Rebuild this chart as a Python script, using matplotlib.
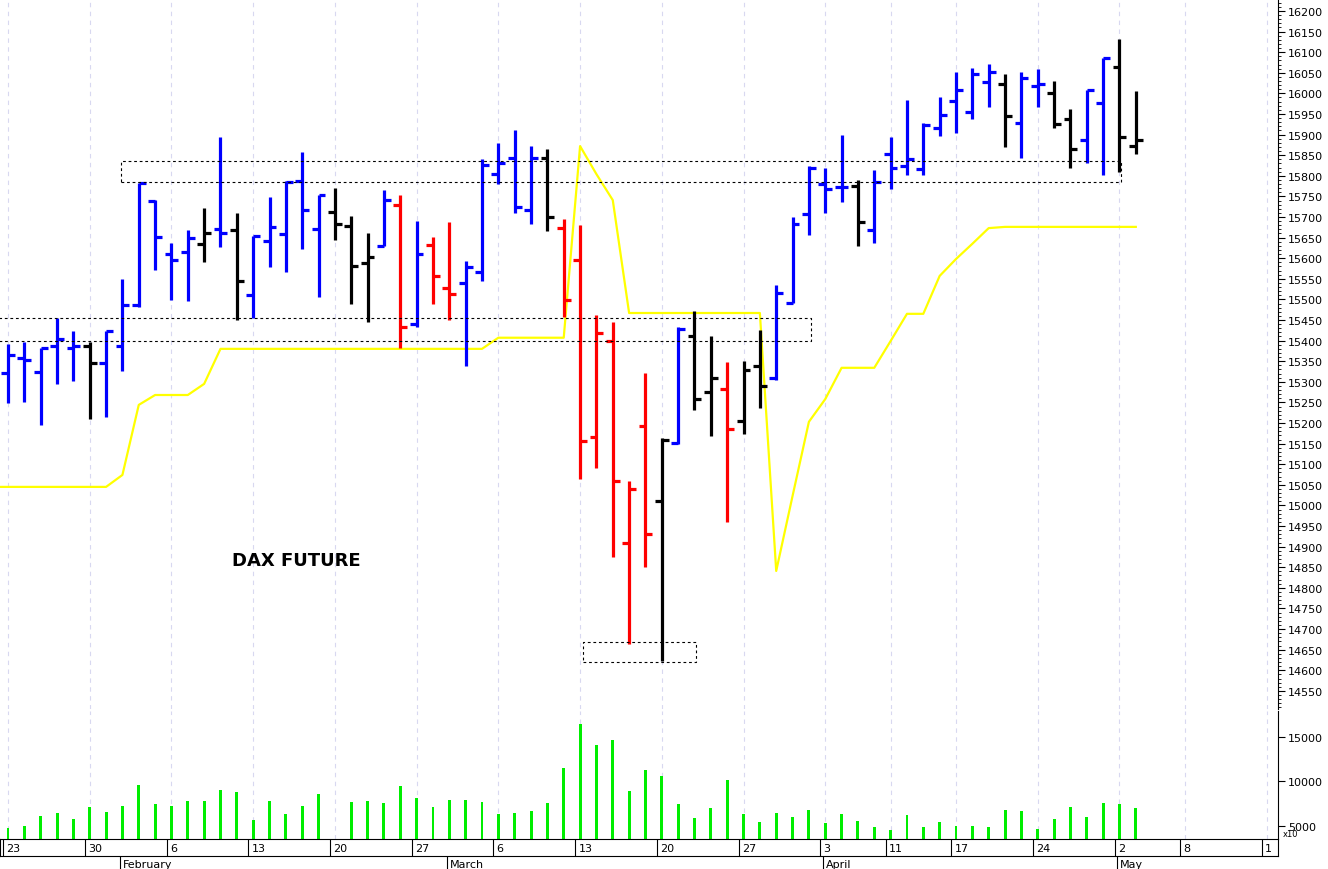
import numpy as np
import matplotlib
matplotlib.use("Agg")
import matplotlib.pyplot as plt

# OHLC per trading-day slot (slot 0 = Jan 23)
opens = [15321, 15359, 15323, 15388, 15382, 15386, 15345, 15386, 15486, 15738,
         15609, 15614, 15634, 15671, 15668, 15511, 15642, 15658, 15787, 15672,
         15713, 15677, 15588, 15629, 15729, 15440, 15633, 15528, 15541, 15567,
         15804, 15844, 15717, 15844, 15673, 15595, 15167, 15398, 14909, 15193,
         15011, 15151, 15411, 15276, 15283, 15205, 15339, 15310, 15492, 15707,
         15780, 15773, 15776, 15668, 15852, 15823, 15816, 15915, 15982, 15954,
         16028, 16023, 15927, 16017, 16001, 15938, 15887, 15976, 16063, 15873]
highs = [15392, 15397, 15381, 15456, 15423, 15396, 15424, 15549, 15782, 15741,
         15637, 15669, 15723, 15894, 15710, 15653, 15749, 15787, 15858, 15753,
         15770, 15702, 15660, 15766, 15754, 15691, 15651, 15687, 15594, 15840,
         15880, 15911, 15872, 15864, 15694, 15681, 15462, 15445, 15060, 15322,
         15163, 15434, 15472, 15411, 15347, 15351, 15425, 15534, 15700, 15823,
         15820, 15899, 15790, 15815, 15893, 15985, 15927, 15992, 16052, 16061,
         16071, 16048, 16052, 16059, 16029, 15962, 16008, 16086, 16132, 16005]
lows = [15249, 15250, 15194, 15295, 15303, 15210, 15214, 15327, 15481, 15572,
        15499, 15497, 15590, 15626, 15451, 15456, 15578, 15567, 15622, 15505,
        15644, 15489, 15446, 15629, 15381, 15432, 15489, 15449, 15339, 15545,
        15779, 15710, 15683, 15666, 15458, 15065, 15092, 14874, 14664, 14851,
        14622, 15149, 15232, 15168, 14960, 15173, 15236, 15305, 15492, 15657,
        15709, 15737, 15630, 15638, 15769, 15802, 15802, 15897, 15905, 15939,
        15968, 15869, 15843, 15966, 15915, 15819, 15831, 15802, 15810, 15853]
closes = [15366, 15354, 15381, 15404, 15386, 15345, 15423, 15487, 15782, 15651,
          15596, 15648, 15660, 15660, 15544, 15653, 15676, 15784, 15716, 15753,
          15683, 15582, 15602, 15741, 15432, 15609, 15558, 15513, 15579, 15827,
          15832, 15725, 15844, 15700, 15498, 15157, 15419, 15060, 15041, 14931,
          15160, 15428, 15258, 15309, 15185, 15328, 15290, 15515, 15683, 15819,
          15769, 15773, 15687, 15786, 15818, 15840, 15923, 15947, 16008, 16047,
          16051, 15944, 16037, 16023, 15925, 15865, 16008, 16086, 15893, 15887]
bar_colors = list("bbbbbkbbbbbbkbkbbbbb" "kkkbrbrrbbbbbkrrrrrr"
                  "kbkkrkkbbbbbkbbbbbbb" "bkbbkkbbkk")

stop_line = ([15045] * 7 + [15074, 15244, 15268, 15268, 15268, 15295] + [15380] * 17
             + [15407] * 5 + [15872, 15804, 15741] + [15467] * 9
             + [14841, 15023, 15203, 15258, 15334, 15334, 15334, 15399, 15465, 15465,
                15557, 15598, 15635, 15673] + [15676] * 9)

volume = [4810, 4960, 6160, 6500, 5750, 7170, 6610, 7210, 9600, 7430,
          7280, 7850, 7850, 9080, 8780, 5640, 7850, 6390, 7280, 8630,
          np.nan, 7700, 7810, 7550, 9500, 8150, 7170, 7960, 7960, 7730,
          6390, 6500, 6720, 7620, 11550, 16500, 14100, 14630, 8930, 11330,
          10580, 7470, 5940, 7060, 10210, 6390, 5490, 6500, 6050, 6800,
          5370, 6390, 5600, 4890, 4510, 6270, 4890, 5490, 5040, 5040,
          4930, 6840, 6720, 4630, 5820, 7170, 6050, 7620, 7470, 6990]

# dashed boxes: (slot start, slot end, low, high)
boxes = [(6.9, 68.1, 15785, 15836), (-0.6, 49.1, 15399, 15455), (35.2, 42.1, 14620, 14669)]

week_slots = [0, 5, 10, 15, 20, 25, 30, 35, 40, 45, 50, 54, 58, 63, 68, 72, 77]
week_labels = ["23", "30", "6", "13", "20", "27", "6", "13", "20", "27", "3", "11",
               "17", "24", "2", "8", "1"]
month_slots = [7, 27, 50, 68]
month_labels = ["February", "March", "April", "May"]

cmap = {"b": "#0000ff", "k": "#000000", "r": "#ff0000"}
x = np.arange(len(closes))
xlim = (-0.49, 77.7)
tick = 0.42

fig = plt.figure(figsize=(13.28, 8.7), dpi=100)
W, H = 1328, 870
ax = fig.add_axes([0, 1 - 710 / H, 1278 / W, 710 / H])
axv = fig.add_axes([0, 1 - 840 / H, 1278 / W, 128 / H])
axd = fig.add_axes([0, 1 - 857 / H, 1278 / W, 17 / H])

for a in (ax, axv):
    a.set_xlim(*xlim)
    for s in week_slots:
        a.axvline(s, color="#d8d8f0", lw=0.8, ls=(0, (4, 4)), zorder=0)
    a.yaxis.tick_right()
    a.set_xticks([])
    for sp in ("top", "left", "bottom"):
        a.spines[sp].set_visible(False)

# price bars
for i in x:
    c = cmap[bar_colors[i]]
    ax.plot([i, i], [lows[i], highs[i]], color=c, lw=2.3, solid_capstyle="butt")
    ax.plot([i - tick, i], [opens[i], opens[i]], color=c, lw=2.3, solid_capstyle="butt")
    ax.plot([i, i + tick], [closes[i], closes[i]], color=c, lw=2.3, solid_capstyle="butt")

ax.plot(np.r_[-0.6, x], [stop_line[0]] + stop_line, color="#ffff00", lw=1.6, zorder=1)

for x0, x1, lo, hi in boxes:
    ax.plot([x0, x1, x1, x0, x0], [lo, lo, hi, hi, lo], color="black", lw=0.8,
            ls=(0, (2.5, 2.5)))

ax.text(13.7, 14855, "DAX FUTURE", fontsize=13, fontweight="bold")

ax.set_ylim(14506, 16229)
ax.set_yticks(np.arange(14550, 16201, 50))
ax.set_yticks(np.arange(14510, 16230, 10), minor=True)
ax.tick_params(axis="y", labelsize=8, length=5, pad=2)
ax.tick_params(axis="y", which="minor", length=2.5)

# volume
axv.bar(x, volume, width=0.18, color="#00ee00", bottom=0)
axv.set_ylim(3540, 17920)
axv.set_yticks([5000, 10000, 15000])
axv.tick_params(axis="y", labelsize=8, length=5, pad=2)
axv.text(1.004, 0.02, "x10", transform=axv.transAxes, fontsize=6)

# date strip
axd.set_xlim(*xlim)
axd.set_ylim(0, 1)
axd.set_xticks([])
axd.set_yticks([])
for s, lab in zip(week_slots, week_labels):
    axd.axvline(s - 0.3, color="black", lw=0.8)
    axd.text(s - 0.1, 0.45, lab, fontsize=8, va="center")
for s, lab in zip(month_slots, month_labels):
    xf = (8 + 16.35 * s) / W
    fig.add_artist(plt.Line2D([xf - 0.002, xf - 0.002], [1 - 869 / H, 1 - 858 / H],
                              color="black", lw=0.8))
    fig.text(xf, 1 - 865 / H, lab, fontsize=8, va="center")

fig.savefig("out.png", dpi=100)
